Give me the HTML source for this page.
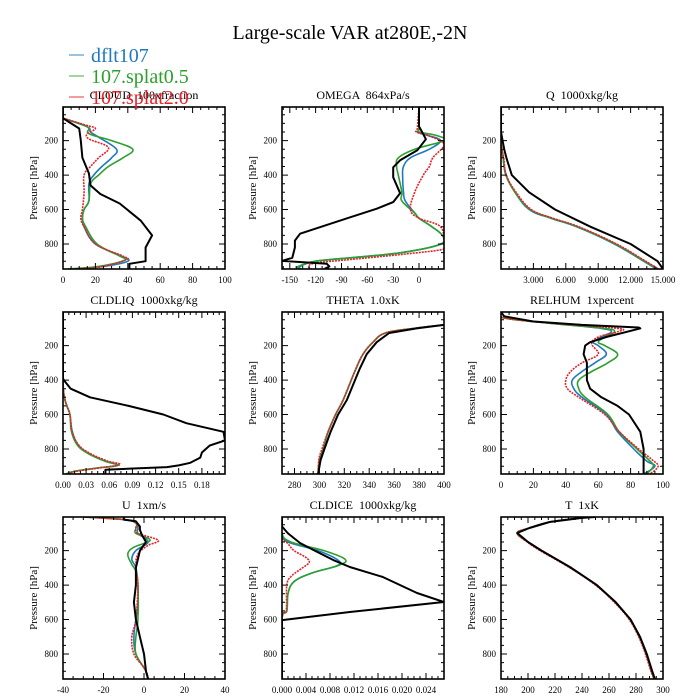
<!DOCTYPE html>
<html><head><meta charset="utf-8"><style>
html,body{margin:0;padding:0;background:#fff;}
svg{display:block;font-family:"Liberation Serif",serif;}
text{white-space:pre;}
</style></head><body>
<svg id="chart" width="700" height="700" viewBox="0 0 700 700">
<text x="350" y="39" font-size="20" text-anchor="middle">Large-scale VAR at280E,-2N</text>
</svg>
<script>
const seriesNames = ["dflt107","107.splat0.5","107.splat2.0"];
const seriesColors = ["#1f78c0","#2ca02c","#e8202a"];
const panelTitles = ["CLOUD  100xfraction","OMEGA  864xPa/s","Q  1000xkg/kg","CLDLIQ  1000xkg/kg","THETA  1.0xK","RELHUM  1xpercent","U  1xm/s","CLDICE  1000xkg/kg","T  1xK"];
const xDomains = [[0,100],[-159,29],[0,15],[0,0.21],[270,400],[0,100],[-40,40],[0,0.027],[180,300]];
const xTicks = [[0,20,40,60,80,100],[-150,-120,-90,-60,-30,0],[3,6,9,12,15],[0,0.03,0.06,0.09,0.12,0.15,0.18],[280,300,320,340,360,380,400],[0,20,40,60,80,100],[-40,-20,0,20,40],[0,0.004,0.008,0.012,0.016,0.020,0.024],[180,200,220,240,260,280,300]];
const xTickLabels = [["0","20","40","60","80","100"],["-150","-120","-90","-60","-30","0"],["3.000","6.000","9.000","12.000","15.000"],["0.00","0.03","0.06","0.09","0.12","0.15","0.18"],["280","300","320","340","360","380","400"],["0","20","40","60","80","100"],["-40","-20","0","20","40"],["0.000","0.004","0.008","0.012","0.016","0.020","0.024"],["180","200","220","240","260","280","300"]];
const pressureTicks = [200,400,600,800];
const pressureDomain = [5,945];

const cloudBlue=[[70,0],[120,15],[150,17],[180,22],[250,33],[300,30],[350,24],[400,19],[450,16],[550,16],[600,13],[650,12],[700,13],[800,20],[870,36],[900,40],[930,25],[945,5]];
const cloudGreen=[[70,0],[120,15],[160,16],[200,30],[250,43],[300,37],[350,28],[400,22],[450,17],[550,16],[600,13],[650,12],[700,14],[800,21],[870,35],[895,38],[930,22],[945,3]];
const cloudRed=[[70,0],[110,14],[130,20],[160,15],[190,16],[240,28],[300,22],[350,17],[400,13],[500,13],[600,12],[650,11],[700,13],[800,20],[870,37],[890,39],[930,25],[945,8]];
const cloudBlack=[[5,0],[70,0],[100,5],[130,10],[200,11],[300,12],[390,16],[460,17],[510,23],[565,35],[665,48],[750,55],[820,51],[900,51],[915,41],[945,41]];

const omegaBlue=[[5,0],[130,0],[150,-2],[170,10],[200,25],[250,12],[300,-10],[350,-18],[400,-19],[500,-18],[550,-16],[620,-5],[650,0],[700,15],[750,27],[800,26],[850,-20],[880,-80],[900,-120],[930,-138],[945,-137]];
const omegaGreen=[[5,0],[130,0],[150,0],[170,20],[200,29],[250,-5],[300,-24],[350,-26],[400,-24],[500,-20],[550,-20],[620,-5],[650,0],[700,15],[750,27],[800,25],[850,-20],[880,-80],[900,-120],[930,-140],[945,-140]];
const omegaRed=[[5,0],[130,-2],[150,-3],[170,10],[200,24],[230,29],[300,16],[350,12],[400,5],[500,-5],[600,-10],[650,0],[700,25],[800,29],[830,29],[860,-20],[890,-80],[910,-120],[930,-128],[945,-125]];
const omegaBlack=[[5,0],[117,0],[192,8],[256,-2],[314,-22],[355,-30],[413,-30],[505,-22],[557,-30],[595,-49],[645,-80],[740,-138],[780,-144],[820,-144],[880,-147],[898,-159],[915,-107],[930,-104],[945,-110]];

const qBlue=[[5,0],[200,0],[300,0.2],[400,0.45],[500,1.3],[600,2.6],[650,4.6],[700,7.0],[800,10.5],[900,13.2],[945,14.4]];
const qGreen=[[5,0],[200,0],[300,0.2],[400,0.45],[500,1.3],[600,2.7],[650,4.7],[700,7.1],[800,10.6],[900,13.3],[945,14.5]];
const qRed=[[5,0],[200,0],[300,0.25],[400,0.5],[500,1.4],[600,2.8],[650,4.8],[700,7.2],[800,10.7],[900,13.4],[945,14.6]];
const qBlack=[[5,0],[150,0],[250,0.3],[300,0.5],[400,1.0],[500,2.6],[600,5.0],[700,8.3],[800,12.0],[900,14.5],[945,15]];

const liqBlue=[[5,0],[400,0],[500,0.002],[550,0.005],[600,0.009],[700,0.012],[780,0.02],[830,0.035],[870,0.055],[895,0.071],[910,0.045],[930,0.015],[945,0.005]];
const liqGreen=[[5,0],[400,0],[500,0.002],[550,0.005],[600,0.009],[700,0.011],[780,0.019],[830,0.034],[870,0.054],[895,0.07],[910,0.044],[930,0.014],[945,0.004]];
const liqRed=[[5,0],[400,0],[500,0.002],[550,0.005],[600,0.009],[700,0.012],[780,0.021],[830,0.037],[870,0.058],[890,0.074],[910,0.047],[930,0.016],[945,0.006]];
const liqBlack=[[5,0],[390,0],[400,0.001],[450,0.01],[500,0.035],[550,0.085],[600,0.13],[650,0.16],[700,0.208],[750,0.21],[780,0.19],[820,0.18],[850,0.178],[880,0.165],[895,0.15],[905,0.135],[920,0.055],[945,0.055]];

const thetaBlue=[[80,400],[100,376],[127,353],[180,343],[250,335],[340,329],[516,319],[600,313],[700,307],[800,303],[864,300],[945,299]];
const thetaGreen=[[80,400],[100,376],[127,353],[180,343],[250,335],[340,329],[516,319],[600,313],[700,307],[800,303],[864,300],[945,299]];
const thetaRed=[[80,400],[100,376],[127,353],[180,343],[250,335],[340,329],[516,319],[600,313],[700,307],[800,302],[864,299.5],[945,299]];
const thetaBlack=[[80,400],[100,378],[127,356],[180,346],[250,338],[340,332],[516,322],[600,315],[700,309],[800,304],[864,301],[945,299]];

const rhBlue=[[5,0],[40,2],[70,30],[100,62],[120,68],[150,62],[180,57],[200,60],[250,65],[300,58],[350,50],[400,44],[450,45],[500,50],[600,65],[700,72],[800,82],[870,90],[900,95],[945,88]];
const rhGreen=[[5,0],[40,2],[70,30],[100,64],[120,70],[150,64],[180,60],[200,64],[250,72],[300,66],[350,56],[400,48],[450,48],[500,52],[600,66],[700,73],[800,84],[870,92],[900,94],[945,90]];
const rhRed=[[5,0],[40,2],[70,32],[100,72],[120,72],[150,60],[190,56],[250,60],[300,50],[350,43],[400,40],[450,41],[500,48],[600,64],[700,73],[800,85],[860,93],[900,97],[945,92]];
const rhBlack=[[5,0],[30,2],[60,20],[80,50],[95,85],[100,86],[150,65],[180,55],[200,52],[250,51],[300,53],[400,53],[450,55],[500,62],[550,72],[600,79],[700,86],[800,88],[945,88]];

const uBlue=[[5,-30],[20,-10],[40,-4],[70,-3],[100,-3],[150,2],[200,-4],[250,-6],[300,-4],[400,-3],[500,-3],[600,-4],[700,-5],[800,-4],[900,1],[945,2]];
const uGreen=[[5,-30],[20,-10],[40,-4],[70,-4],[100,-4],[140,3],[180,-5],[220,-8],[280,-6],[320,-4],[400,-3],[600,-3],[700,-4],[800,-4],[900,1],[945,2]];
const uRed=[[5,-30],[20,-10],[40,-4],[70,-4],[100,-3],[140,7],[170,2],[220,-3],[300,-4],[400,-3],[600,-4],[700,-6],[800,-5],[880,0],[945,2]];
const uBlack=[[5,-10],[20,-10],[30,-4],[60,-2],[80,-2],[110,-1],[150,1],[200,-2],[300,-4],[400,-4],[500,-5],[600,-4],[700,-2],[800,0],[900,1],[945,2]];

const iceBlue=[[5,0],[100,0],[150,0.001],[200,0.006],[260,0.0095],[290,0.009],[330,0.005],[380,0.002],[450,0.001],[550,0.0008],[600,0],[945,0]];
const iceGreen=[[5,0],[100,0],[150,0.0015],[200,0.007],[250,0.0105],[285,0.0095],[330,0.005],[380,0.002],[450,0.001],[550,0.0008],[600,0],[945,0]];
const iceRed=[[5,0],[120,0],[160,0.001],[200,0.002],[240,0.004],[270,0.0045],[310,0.003],[350,0.0015],[400,0.0008],[550,0.0007],[600,0],[945,0]];
const iceBlack=[[5,0],[60,0],[100,0.001],[156,0.003],[196,0.0052],[254,0.0085],[295,0.0113],[353,0.0168],[446,0.0225],[498,0.027],[556,0.0113],[603,0],[945,0]];

const tBlue=[[5,250],[10,240],[34,216],[69,201],[98,192],[150,200],[200,210],[300,231.5],[400,250.5],[500,264.5],[600,275.5],[700,282.5],[800,287.5],[900,291.5],[945,293.5]];
const tGreen=[[5,250],[10,240],[34,216],[69,201],[98,192],[150,200],[200,210],[300,231.5],[400,250.5],[500,264.5],[600,275.5],[700,282.5],[800,287.5],[900,291.5],[945,293.5]];
const tRed=[[5,250],[10,240],[34,216],[69,201],[98,192],[150,199.5],[200,209],[300,231],[400,250],[500,264],[600,275],[700,282],[800,287],[900,291],[945,293.5]];
const tBlack=[[5,250],[10,240],[34,216],[69,201],[98,192],[150,200],[200,210],[300,232],[400,251],[500,265],[600,276],[700,283],[800,288],[900,292],[945,294]];

const panelSeries=[[cloudBlue,cloudGreen,cloudRed,cloudBlack],[omegaBlue,omegaGreen,omegaRed,omegaBlack],[qBlue,qGreen,qRed,qBlack],[liqBlue,liqGreen,liqRed,liqBlack],[thetaBlue,thetaGreen,thetaRed,thetaBlack],[rhBlue,rhGreen,rhRed,rhBlack],[uBlue,uGreen,uRed,uBlack],[iceBlue,iceGreen,iceRed,iceBlack],[tBlue,tGreen,tRed,tBlack]];

const NS="http://www.w3.org/2000/svg";
const svg=document.getElementById('chart');
const colLeft=[63,282,501], rowTop=[107,312,517], W=162, H=162;
function mk(tag,parent){const e=document.createElementNS(NS,tag);parent.appendChild(e);return e;}
function slug(s){return s.toLowerCase().replace(/[^a-z0-9]+/g,'-').replace(/^-|-$/g,'');}
function linearPath(P){return 'M'+P.map(p=>p[0].toFixed(1)+','+p[1].toFixed(1)).join('L');}
function smoothPath(P){
  if(P.length<3) return linearPath(P);
  let d='M'+P[0][0].toFixed(1)+','+P[0][1].toFixed(1);
  const k=0.18;
  for(let i=0;i<P.length-1;i++){
    const p0=P[Math.max(0,i-1)],p1=P[i],p2=P[i+1],p3=P[Math.min(P.length-1,i+2)];
    const c1x=p1[0]+(p2[0]-p0[0])*k,c1y=p1[1]+(p2[1]-p0[1])*k;
    const c2x=p2[0]-(p3[0]-p1[0])*k,c2y=p2[1]-(p3[1]-p1[1])*k;
    d+=`C${c1x.toFixed(1)},${c1y.toFixed(1)} ${c2x.toFixed(1)},${c2y.toFixed(1)} ${p2[0].toFixed(1)},${p2[1].toFixed(1)}`;
  }
  return d;
}

panelTitles.forEach((title,i)=>{
  const x0=colLeft[i%3], y0=rowTop[Math.floor(i/3)];
  const dom=xDomains[i];
  const sx=v=>x0+(v-dom[0])/(dom[1]-dom[0])*W;
  const sy=p=>y0+(p-pressureDomain[0])/(pressureDomain[1]-pressureDomain[0])*H;
  const g=mk('g',svg);
  
  
  const t=mk('text',g);
  
  
  t.setAttribute('x',x0+W/2);t.setAttribute('y',y0-8);t.setAttribute('font-size','12');t.setAttribute('text-anchor','middle');
  t.textContent=title;
  const cp=mk('clipPath',g);cp.setAttribute('id','cp'+i);
  const cr=mk('rect',cp);cr.setAttribute('x',x0);cr.setAttribute('y',y0);cr.setAttribute('width',W);cr.setAttribute('height',H);
  panelSeries[i].forEach((pts,k)=>{
    const pl=mk('path',g);
    
    
    const P=pts.map(d=>[sx(d[1]),sy(d[0])]);
    pl.setAttribute('d',k<3?smoothPath(P):linearPath(P));
    pl.setAttribute('fill','none');
    pl.setAttribute('clip-path','url(#cp'+i+')');
    pl.setAttribute('stroke',k<3?seriesColors[k]:'#000');
    pl.setAttribute('stroke-width',k<3?'1.6':'2');
    pl.setAttribute('stroke-linejoin','round');
    if(k===2) pl.setAttribute('stroke-dasharray','2,1');
  });
  const tk=mk('path',g);
  
  
  let d='';
  const xt=xTicks[i];
  const step=xt.length>1?(xt[1]-xt[0]):1;
  const minor=step/4;
  for(let v=xt[0]-Math.floor((xt[0]-dom[0])/minor)*minor; v<=dom[1]+1e-9; v+=minor){
    const X=sx(v); if(X<x0-0.1||X>x0+W+0.1) continue;
    const isMaj=xt.some(m=>Math.abs(m-v)<minor/10); const L=isMaj?6:3;
    d+=`M${X.toFixed(1)},${y0}v${L}M${X.toFixed(1)},${y0+H}v${-L}`;
  }
  for(let p=50;p<=pressureDomain[1];p+=50){
    const Y=sy(p); const L=(p%200===0)?6:3;
    d+=`M${x0},${Y.toFixed(1)}h${L}M${x0+W},${Y.toFixed(1)}h${-L}`;
  }
  tk.setAttribute('d',d);tk.setAttribute('stroke','#000');tk.setAttribute('stroke-width','1');tk.setAttribute('fill','none');
  const fr=mk('rect',g);
  
  
  fr.setAttribute('x',x0);fr.setAttribute('y',y0);fr.setAttribute('width',W);fr.setAttribute('height',H);
  fr.setAttribute('fill','none');fr.setAttribute('stroke','#000');fr.setAttribute('stroke-width','1.6');
  xt.forEach((v,j)=>{
    const l=mk('text',g);
    
    
    l.setAttribute('x',sx(v));l.setAttribute('y',y0+H+14);l.setAttribute('font-size','9');l.setAttribute('text-anchor','middle');
    l.textContent=xTickLabels[i][j];
  });
  pressureTicks.forEach(p=>{
    const l=mk('text',g);
    
    
    l.setAttribute('x',x0-5);l.setAttribute('y',sy(p)+3);l.setAttribute('font-size','9');l.setAttribute('text-anchor','end');
    l.textContent=p;
  });
  const yl=mk('text',g);
  
  
  yl.setAttribute('transform',`translate(${x0-26},${y0+H/2}) rotate(-90)`);
  yl.setAttribute('font-size','11');yl.setAttribute('text-anchor','middle');
  yl.textContent='Pressure [hPa]';
});

seriesNames.forEach((n,k)=>{
  const g=mk('g',svg);
  
  
  const y=55+k*21;
  const ln=mk('line',g);
  ln.setAttribute('x1',69);ln.setAttribute('x2',84);ln.setAttribute('y1',y);ln.setAttribute('y2',y);
  ln.setAttribute('stroke',seriesColors[k]);ln.setAttribute('stroke-width','1.5');ln.setAttribute('opacity','0.6');
  const tx=mk('text',g);
  tx.setAttribute('x',91);tx.setAttribute('y',y+7);tx.setAttribute('font-size','20');tx.setAttribute('fill',seriesColors[k]);
  tx.textContent=n;
});
</script>
</body></html>
